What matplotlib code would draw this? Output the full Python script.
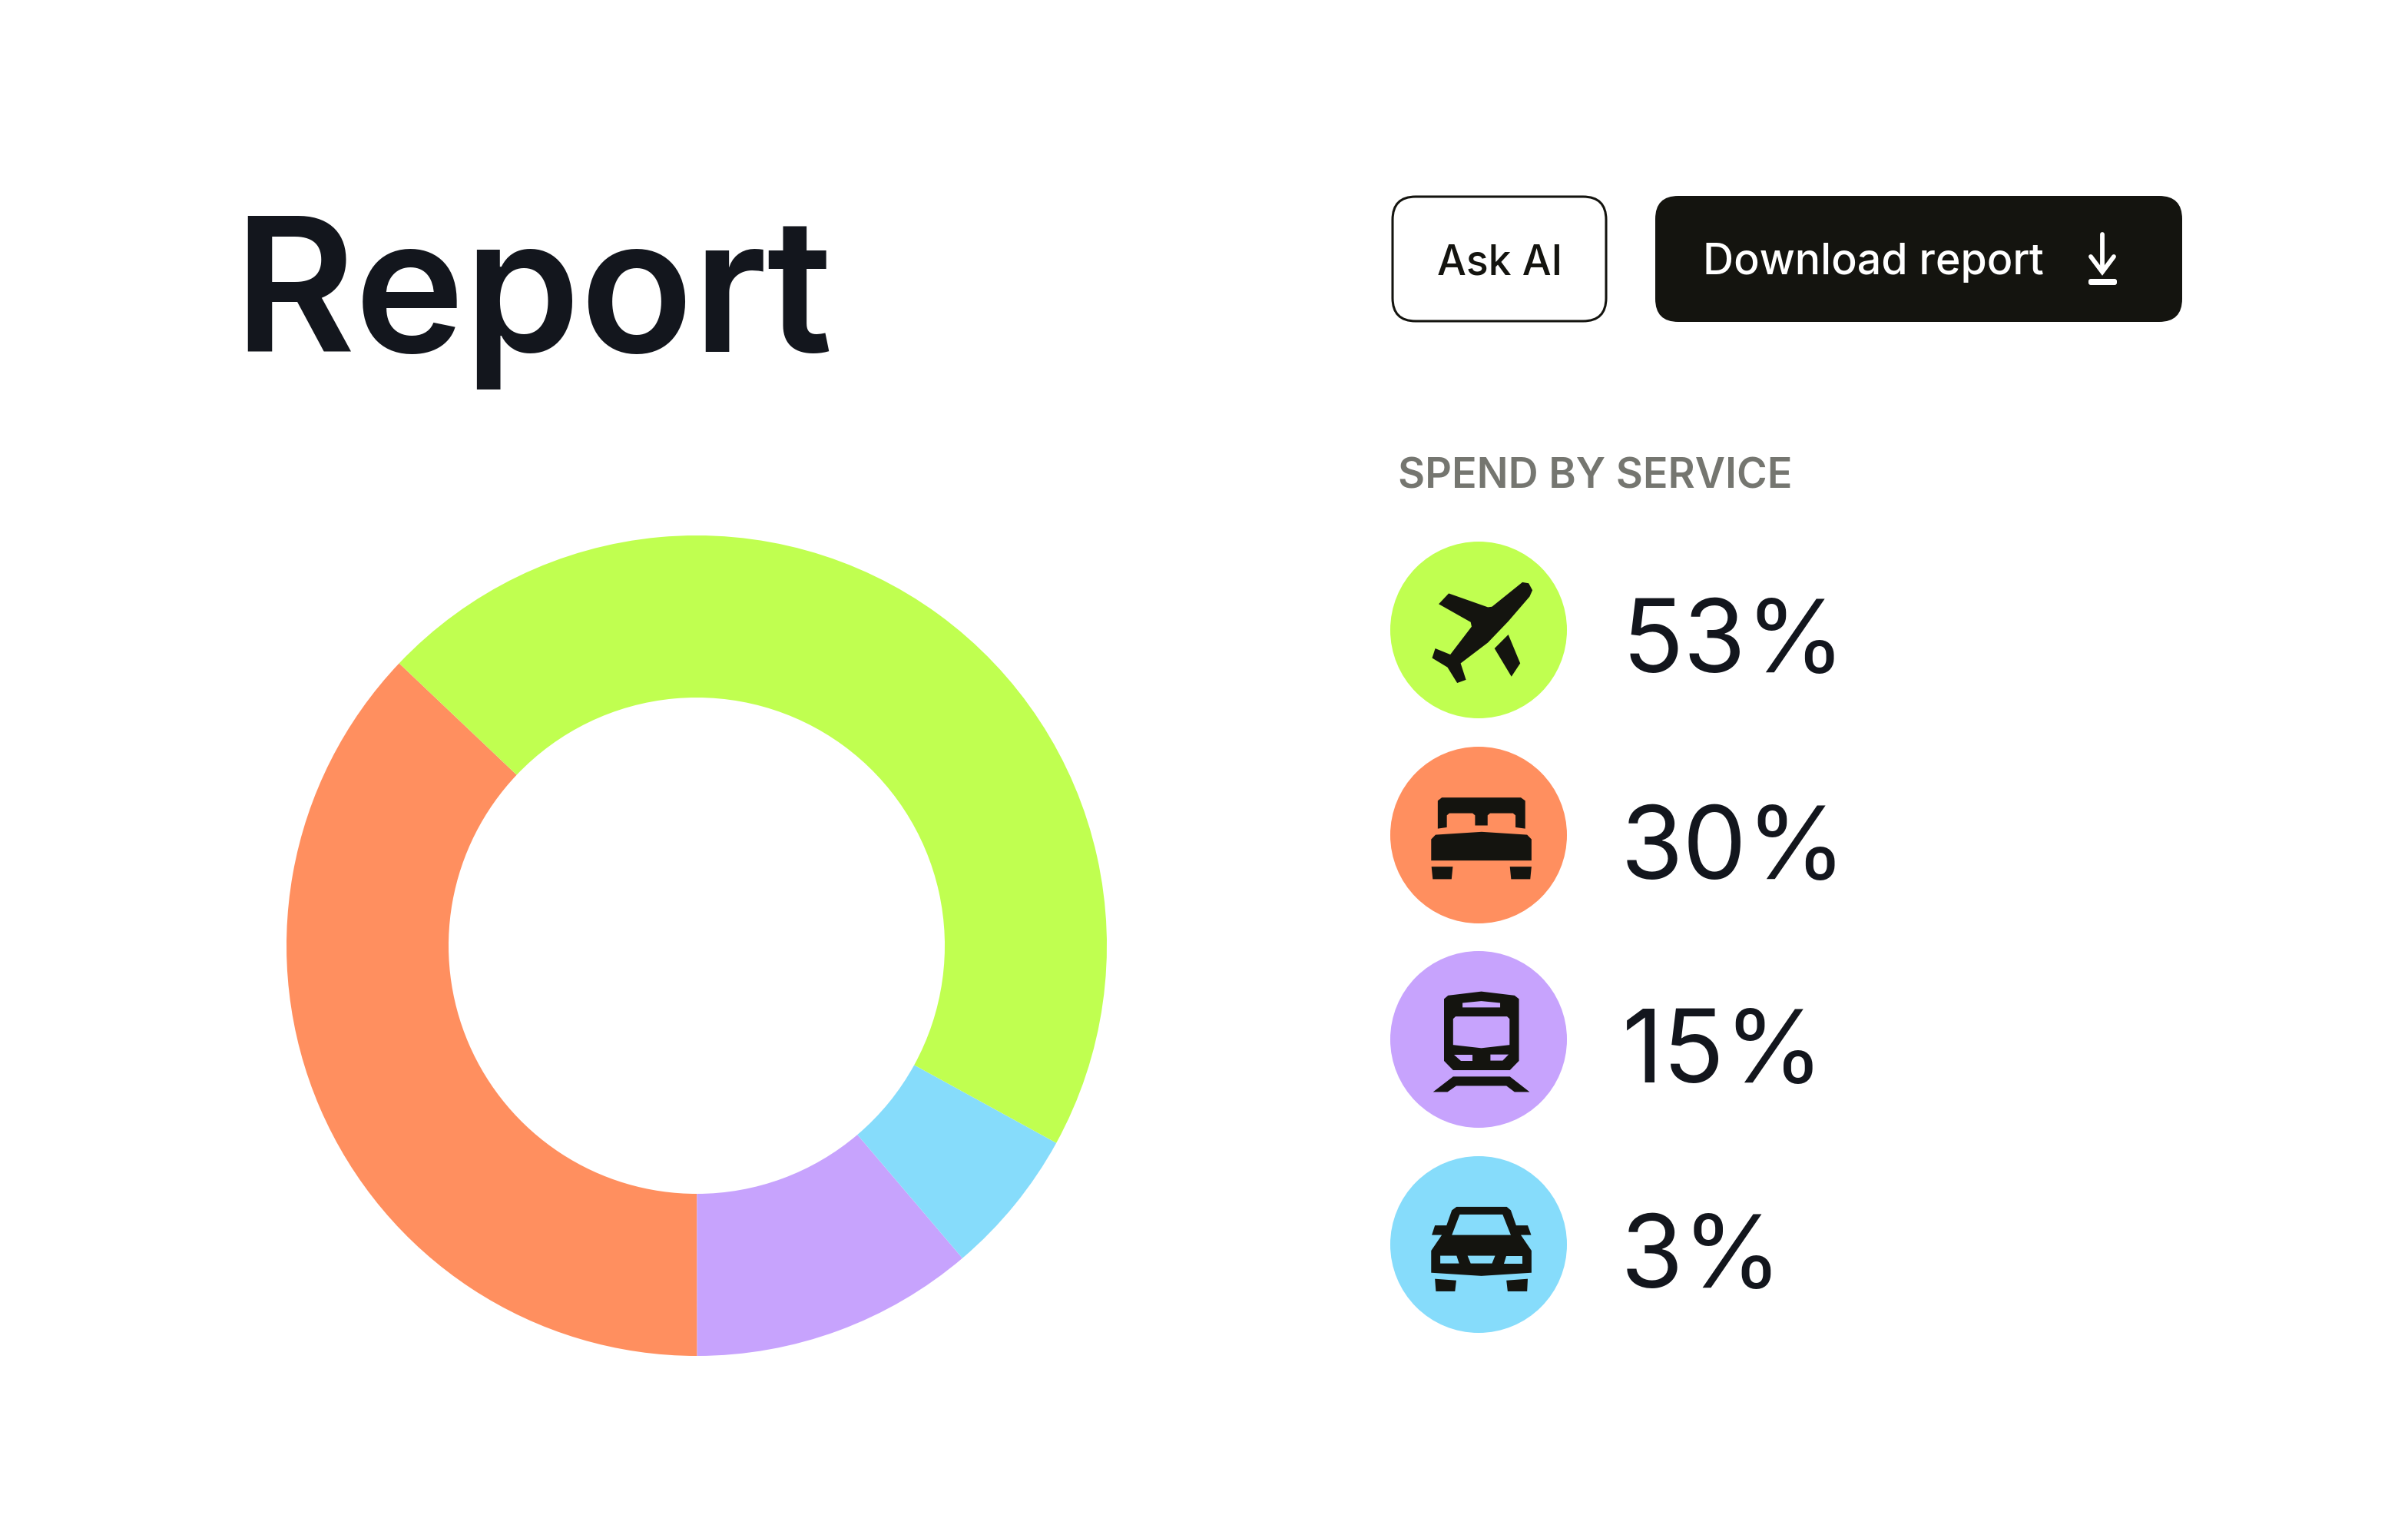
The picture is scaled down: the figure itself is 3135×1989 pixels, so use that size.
#!/usr/bin/env python3
import matplotlib
matplotlib.use('Agg')
import matplotlib.pyplot as plt
from matplotlib.patches import Circle, FancyBboxPatch, Polygon

# Datos
servicios = ['air', 'hotel', 'train', 'car']
etiquetas = ['53%', '30%', '15%', '3%']
# porciones (no coinciden con las etiquetas)
porciones = [37.1, 11.2, 5.8, 45.9]        # hotel, train, car, air
colores_donut = ['#FF8F5F', '#C7A3FD', '#86DCFB', '#C0FF50']
colores_serv = ['#C0FF50', '#FF8F5F', '#C7A3FD', '#86DCFB']

TEXTO = '#13161D'
NEGRO = '#14140F'
GRIS = '#757670'
FUENTE = 'Inter'

W, H = 3135, 1990
fig = plt.figure(figsize=(W/100, H/100), dpi=100, facecolor='white')

# Eje general en pixeles
ax = fig.add_axes([0, 0, 1, 1])
ax.set_xlim(0, W)
ax.set_ylim(H, 0)
ax.axis('off')

# Donut
cx, cy, R, r = 907, 1232, 534, 323
ax_d = fig.add_axes([(cx-R)/W, 1-(cy+R)/H, 2*R/W, 2*R/H])
ax_d.pie(porciones, colors=colores_donut, startangle=136.5, counterclock=True,
         radius=1, wedgeprops=dict(width=(R-r)/R, linewidth=0))
ax_d.set_xlim(-1, 1)
ax_d.set_ylim(-1, 1)
ax_d.axis('off')

# Titulo
ax.text(304, 458, 'Report', fontsize=174, color=TEXTO, family=FUENTE,
        weight='semibold', va='baseline', ha='left')

# Botones
ax.add_patch(FancyBboxPatch((1813+30, 257+30), 278-60, 162-60,
             boxstyle='round,pad=30,rounding_size=30', fc='white', ec=NEGRO, lw=2.2))
ax.text(1871, 357, 'Ask AI', fontsize=38.5, color=NEGRO, family=FUENTE,
        weight='medium', va='baseline', ha='left')
ax.add_patch(FancyBboxPatch((2155+30, 256+30), 686-60, 164-60,
             boxstyle='round,pad=30,rounding_size=30', fc=NEGRO, ec='none'))
ax.text(2217, 357, 'Download report', fontsize=40, color='white', family=FUENTE,
        weight='medium', va='baseline', ha='left')

# Flecha de descarga
ax.plot([2737, 2737], [306, 352], color='white', lw=4.2, solid_capstyle='round')
ax.plot([2722, 2737, 2752], [335, 355, 335], color='white', lw=4.2,
        solid_capstyle='round', solid_joinstyle='miter')
ax.add_patch(FancyBboxPatch((2722, 367), 31, 2, boxstyle='round,pad=3,rounding_size=3',
             fc='white', ec='none'))

ax.text(1820, 636, 'SPEND BY SERVICE', fontsize=38.8, color=GRIS, family=FUENTE,
        weight='semibold', va='baseline', ha='left')

# Iconos: contornos en coordenadas de los recortes
avion = [[(495,228),(515,232),(527,258),(518,282),(450,375),(385,455),(298,533),(315,595),
          (287,607),(256,548),(207,513),(217,477),(265,500),(333,395),(330,378),(228,310),
          (260,270),(385,322),(398,320)],
         [(450,425),(488,533),(460,583),(406,477)]]
cama = [[(225,1050),(238,1038),(490,1038),(504,1050),(504,1155),(473,1150),(473,1105),
         (465,1097),(392,1097),(384,1105),(384,1143),(344,1143),(344,1105),(336,1097),
         (262,1097),(254,1105),(254,1150),(225,1155)],
        [(204,1195),(218,1178),(365,1167),(510,1178),(524,1195),(524,1275),(204,1275)],
        [(205,1298),(273,1298),(269,1345),(209,1345)],
        [(455,1298),(524,1298),(520,1345),(459,1345)]]
tren = [[(245,235),(258,222),(364,207),(470,222),(484,235),(484,468),(455,503),(274,503),(245,468)],
        [(274,527),(455,527),(518,585),(470,585),(444,562),(284,562),(256,585),(210,585)]]
tren_h = [[(304,250),(364,243),(424,250),(424,267),(304,267)],
          [(274,310),(282,301),(446,301),(454,310),(454,408),(364,420),(274,408)],
          [(277,444),(335,444),(335,467),(298,467)],
          [(393,444),(451,444),(432,467),(393,467)]]
auto = [[(270,1030),(285,1017),(445,1017),(458,1030),(475,1087),(512,1087),(523,1123),(490,1123),
         (524,1182),(524,1265),(364,1277),(204,1265),(204,1182),(238,1123),(206,1123),(216,1087),(253,1087)],
        [(216,1288),(284,1294),(280,1335),(219,1335)],
        [(444,1294),(512,1288),(510,1335),(448,1335)]]
auto_h = [[(295,1046),(432,1046),(458,1123),(270,1123)],
          [(233,1201),(285,1201),(293,1230),(233,1230)],
          [(320,1201),(408,1201),(398,1230),(330,1230)],
          [(443,1201),(494,1201),(494,1230),(435,1230)]]

def recorte(pts, y0):
    # paso de coordenadas del recorte a pixeles de la figura
    return [(1780 + x/2.45, y0 + y/2.89) for x, y in pts]

iconos = [(avion, [], 680), (cama, [], 680), (tren, tren_h, 1220), (auto, auto_h, 1220)]
ys_circ = [821, 1088, 1354, 1621]
ys_txt = [875, 1144, 1409, 1676]
xs_txt = [2111, 2110, 2112, 2110]

for i in range(len(servicios)):
    ax.add_patch(Circle((1925, ys_circ[i]), 115, fc=colores_serv[i], ec='none'))
    llenos, huecos, y0 = iconos[i]
    for p in llenos:
        ax.add_patch(Polygon(recorte(p, y0), closed=True, fc=NEGRO, ec='none'))
    for p in huecos:
        ax.add_patch(Polygon(recorte(p, y0), closed=True, fc=colores_serv[i], ec='none'))
    ax.text(xs_txt[i], ys_txt[i], etiquetas[i], fontsize=95, color=TEXTO, family=FUENTE,
            weight='normal', va='baseline', ha='left')

fig.savefig('out.png', dpi=100)
